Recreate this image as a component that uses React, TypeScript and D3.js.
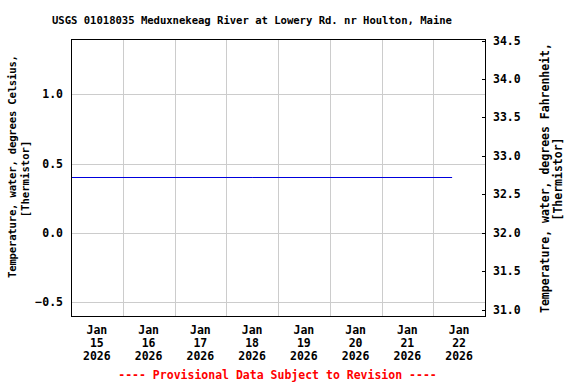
import React from "react";
import * as d3 from "d3";

const TITLE = "USGS 01018035 Meduxnekeag River at Lowery Rd. nr Houlton, Maine";
const LEFT_TITLE = ["Temperature, water, degrees Celsius,", "[Thermistor]"];
const RIGHT_TITLE = ["Temperature, water, degrees Fahrenheit,", "[Thermistor]"];
const FOOTER = "---- Provisional Data Subject to Revision ----";

const celsiusTicks = [-0.5, 0.0, 0.5, 1.0];
const fahrenheitTicks = [31.0, 31.5, 32.0, 32.5, 33.0, 33.5, 34.0, 34.5];
const dayLabels = ["15", "16", "17", "18", "19", "20", "21", "22"];
const seriesTimes = ["2026-01-15T00:00", "2026-01-18T12:00", "2026-01-22T08:45"];
const seriesValues = [0.4, 0.4, 0.4];

const W = 576;
const H = 384;
const M = { left: 71, right: 485, top: 39, bottom: 316 };
const FONT = "'DejaVu Sans Mono', monospace";

export default function App() {
  const x = d3
    .scaleTime()
    .domain([new Date("2026-01-15T00:00"), new Date("2026-01-23T00:00")])
    .range([M.left, M.right]);
  const y = d3.scaleLinear().domain([-0.6, 1.4]).range([M.bottom, M.top]);
  const yF = d3
    .scaleLinear()
    .domain([-0.6 * 1.8 + 32, 1.4 * 1.8 + 32])
    .range([M.bottom, M.top]);

  const gridDays = d3.timeDay.range(new Date("2026-01-16T00:00"), new Date("2026-01-23T00:00"));
  const labelDays = dayLabels.map((d) => new Date(`2026-01-${d}T12:00`));

  const data = seriesTimes.map((t, i) => ({ t: new Date(t), v: seriesValues[i] }));
  const line = d3
    .line<{ t: Date; v: number }>()
    .x((d) => x(d.t))
    .y((d) => y(d.v));

  return (
    <svg width={W} height={H} style={{ position: "absolute", left: 0, top: 0 }} fontFamily={FONT} fontWeight="bold">
      <rect x={0} y={0} width={W} height={H} fill="#ffffff" />
      <text x={252} y={24} fontSize={10.6} textAnchor="middle" textLength={400} lengthAdjust="spacing">
        {TITLE}
      </text>

      {/* grid */}
      {celsiusTicks.map((v) => (
        <line key={"hy" + v} x1={M.left} x2={M.right} y1={Math.round(y(v)) + 0.5} y2={Math.round(y(v)) + 0.5} stroke="#cccccc" />
      ))}
      {gridDays.map((d, i) => (
        <line key={"gx" + i} x1={Math.round(x(d)) + 0.5} x2={Math.round(x(d)) + 0.5} y1={M.top} y2={M.bottom} stroke="#cccccc" />
      ))}

      {/* data line */}
      <path d={line(data) || ""} fill="none" stroke="#0000dd" strokeWidth={1} />

      {/* frame */}
      <rect x={M.left + 0.5} y={M.top + 0.5} width={M.right - M.left} height={M.bottom - M.top} fill="none" stroke="#000" />

      {/* left ticks */}
      {celsiusTicks.map((v) => (
        <text key={"ly" + v} x={63} y={y(v) + 4} fontSize={11.5} textAnchor="end">
          {d3.format(".1f")(v)}
        </text>
      ))}

      {/* right ticks */}
      {fahrenheitTicks.map((v) => (
        <g key={"ry" + v}>
          <line x1={M.right - 3} x2={M.right + 0.5} y1={Math.round(yF(v)) + 0.5} y2={Math.round(yF(v)) + 0.5} stroke="#000" />
          <text x={493} y={yF(v) + 4} fontSize={11.5} textAnchor="start">
            {d3.format(".1f")(v)}
          </text>
        </g>
      ))}

      {/* x labels */}
      {labelDays.map((d, i) => (
        <g key={"xl" + i} fontSize={11.5} textAnchor="middle">
          <text x={x(d)} y={334}>Jan</text>
          <text x={x(d)} y={347}>{dayLabels[i]}</text>
          <text x={x(d)} y={360}>2026</text>
        </g>
      ))}

      {/* axis titles */}
      <g transform="translate(16,166.5) rotate(-90)">
        <text x={0} y={0} fontSize={10.6} textAnchor="middle" textLength={223} lengthAdjust="spacing">
          {LEFT_TITLE[0]}
        </text>
      </g>
      <g transform="translate(29,179) rotate(-90)">
        <text x={0} y={0} fontSize={10.6} textAnchor="middle">
          {LEFT_TITLE[1]}
        </text>
      </g>
      <g transform="translate(549,178) rotate(-90)">
        <text x={0} y={0} fontSize={11.5} textAnchor="middle" textLength={270} lengthAdjust="spacing">
          {RIGHT_TITLE[0]}
        </text>
      </g>
      <g transform="translate(562,179) rotate(-90)">
        <text x={0} y={0} fontSize={11.5} textAnchor="middle">
          {RIGHT_TITLE[1]}
        </text>
      </g>

      <text x={277.5} y={379} fontSize={11.5} textAnchor="middle" fill="#ff0000">
        {FOOTER}
      </text>
    </svg>
  );
}
